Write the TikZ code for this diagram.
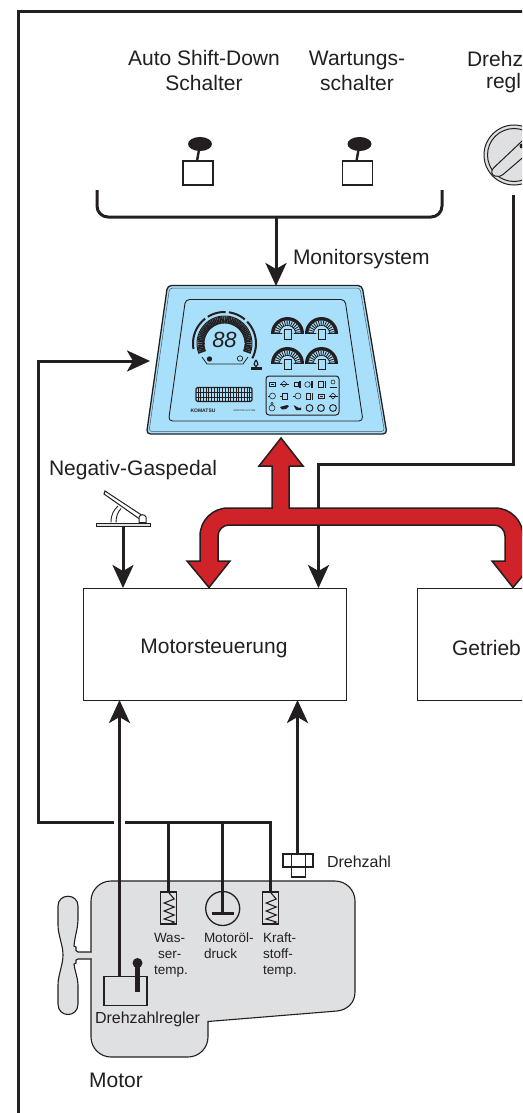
\documentclass[tikz,border=0pt]{standalone}
\usepackage{fontspec}
\setmainfont{Liberation Sans}
\usetikzlibrary{arrows.meta,calc}
\definecolor{ink}{HTML}{231F20}
\definecolor{panelblue}{HTML}{A8DFFA}
\definecolor{redarrow}{HTML}{CF2229}
\definecolor{motorgrey}{HTML}{DFE0E2}
\tikzset{
  x=1pt,y=-1pt,
  every node/.style={text=ink,inner sep=0pt,outer sep=0pt},
  lab/.style={font=\fontsize{21pt}{25pt}\selectfont,align=center},
  smalllab/.style={font=\fontsize{13.5pt}{16pt}\selectfont,align=left},
  conn/.style={draw=ink,line width=3pt},
  arrowconn/.style={conn,-{Stealth[length=23pt,width=21pt,inset=6pt]}},
  thinbox/.style={draw=ink,line width=1.1pt,fill=white},
  sensorbox/.style={draw=ink,line width=1.3pt,fill=none,minimum width=16pt,minimum height=32pt},
  ctrl/.style={draw=ink,line width=1pt,fill=white,minimum height=112pt},
  icon/.style={draw=ink,line width=.55pt},
}
\begin{document}
\begin{tikzpicture}
\path[use as bounding box] (0,0) rectangle (522,1113);
\clip (0,0) rectangle (522,1113);
\fill[white] (0,0) rectangle (522,1113);
% frame
\draw[ink,line width=2.8pt] (18.5,1120) -- (18.5,11.5) -- (530,11.5);

% titles
\node[lab] (t1) at (204,70.5) {Auto Shift-Down\\Schalter};
\node[lab] (t2) at (357,70.5) {Wartungs-\\schalter};
\node[lab,anchor=west] (t3a) at (467,58.5) {Drehz};
\node[lab,anchor=west] (t3b) at (486,83.5) {regl};
\node[lab,anchor=west] (t4) at (293,259.5) {Monitorsystem};
\node[lab,anchor=west] (t5) at (49,470) {Negativ-Gaspedal};

% switches
\foreach \n/\cx in {a/198,b/357.5}{
  \node[thinbox,minimum width=30pt,minimum height=24pt] (sw\n) at (\cx,173) {};
  \fill[ink] (\cx+2,144) ellipse [x radius=12,y radius=7];
  \draw[ink,line width=2.4pt] (\cx-1,161) -- (\cx+1.5,147);
}
% dial
\node[circle,draw=ink,line width=1pt,fill=motorgrey,minimum size=60pt] (dial) at (514,155) {};
\draw[ink,line width=1pt] (514,155) circle [radius=26.5];
\draw[ink,line width=1pt,fill=motorgrey] (530,133.5) -- (493.5,168) .. controls (490,172) and (492,175) .. (495,176) .. controls (498,177) and (500,176.5) .. (503,174.5) -- (534,148);
\fill[ink] (522,146) circle [radius=2.5];

% bracket
\draw[conn,rounded corners=11pt] (97,190) -- (97,217) -- (442,217) -- (442,190);
\coordinate (brk) at (276,217);

% right signal line (behind red arrow)
\coordinate (dialout) at (513.5,195);
\coordinate (jog) at (513.5,464);

% ECU boxes
\node[ctrl,minimum width=263pt] (ecu) at (214.5,644) {};
\node[ctrl,minimum width=160pt] (tcu) at (497,644) {};
\node[lab] (t6) at (214,648) {Motorsteuerung};
\node[lab,anchor=west] (t7) at (452,648) {Getrieb};

% monitor panel
\node[minimum width=240pt,minimum height=148pt] (panel) at (267,360) {};
\draw[ink,line width=1.3pt,fill=panelblue,rounded corners=4pt] (167.5,285.5) -- (362,285.5) -- (387,434) -- (146.5,434) -- cycle;
\draw[ink!70!panelblue,line width=.5pt,rounded corners=3pt] (169.5,288) -- (360,288) -- (384.5,431.5) -- (149,431.5) -- cycle;
\draw[ink,line width=.9pt,rounded corners=4pt] (185.5,299.5) -- (345,299.5) -- (363,421) -- (168.5,421) -- cycle;
% main gauge
\def\gx{224.5}\def\gy{343.5}
\foreach \a in {-20,-16,...,200}{
  \draw[ink,line width=1.6pt] ({\gx+20*cos(\a)},{\gy-20*sin(\a)}) -- ({\gx+27*cos(\a)},{\gy-27*sin(\a)});
}
\draw[ink,line width=1pt] plot[smooth,samples=30,domain=-22:202] ({\gx+27.5*cos(\x)},{\gy-27.5*sin(\x)});
\foreach \s/\e in {190/128,122/88,82/50,44/-28}{
  \draw[ink,line width=2pt] plot[smooth,samples=14,domain=\s:\e] ({\gx+31.5*cos(\x)},{\gy-31.5*sin(\x)});
}
\draw[ink,line width=.8pt] (202,357) -- (207,364) -- (243,364) -- (248,357);
\node[font=\fontsize{22pt}{22pt}\selectfont\itshape] (speed) at (224.5,340) {88};
\fill[ink] (209.5,359) circle [radius=2.7];
\draw[ink,line width=.7pt] (240,358.5) circle [radius=2.7];
% oil icon
\draw[ink,line width=1.2pt] (256,360) .. controls (253.5,363.5) and (253.5,366) .. (256,366.5) .. controls (258.5,366) and (258.5,363.5) .. (256,360);
\fill[ink] (250.5,366.8) rectangle (261.5,369.5);
% small gauges
\foreach \sx/\sy in {287.5/333.5,321.5/333.5,287.5/363.5,321.5/363.5}{
  \fill[ink] ({\sx-16.5},\sy) -- plot[smooth,samples=15,domain=180:0] ({\sx+16.5*cos(\x)},{\sy-16.5*sin(\x)}) -- ({\sx+16.5},\sy) -- cycle;
  \fill[panelblue] (\sx-13,\sy) -- plot[samples=15,domain=180:0] ({\sx+13*cos(\x)},{\sy-13*sin(\x)}) -- cycle;
  \foreach \a in {8,20,...,176}{
    \draw[ink,line width=.85pt] ({\sx+8*cos(\a)},{\sy-8*sin(\a)}) -- ({\sx+13*cos(\a)},{\sy-13*sin(\a)});
  }
  \draw[ink,line width=.7pt] plot[samples=15,domain=180:0] ({\sx+8*cos(\x)},{\sy-8*sin(\x)});
  \draw[ink,line width=1.1pt] (\sx-16.5,\sy) -- (\sx-6,\sy);
  \draw[ink,line width=1.1pt] (\sx+6,\sy) -- (\sx+16.5,\sy);
  \draw[ink,line width=.6pt,fill=panelblue] (\sx-3.5,\sy-4) rectangle (\sx+3.5,\sy+6);
}
% bar display
\draw[ink,line width=1.1pt,rounded corners=1.5pt,fill=panelblue] (196,387.5) rectangle (252,401.5);
\foreach \i in {0,...,19}{\draw[ink,line width=1pt] ({198+\i*2.73},388) -- ({198+\i*2.73},401);}
\draw[ink,line width=.8pt] (196,392) -- (252,392);
\draw[ink,line width=.8pt] (196,397) -- (252,397);
\node[font=\bfseries\fontsize{5pt}{6pt}\selectfont] (brand) at (203,411) {KOMATSU};
\node[font=\fontsize{2.4pt}{3pt}\selectfont] (model) at (244.5,411) {MONITOR SYSTEM};
% indicator block
\draw[ink,line width=1pt,rounded corners=3pt] (266,376) rectangle (339,415);
% row 1
\draw[icon] (269,382) rectangle (275,386.5); \draw[icon] (270.5,384.2) -- (273.5,384.2);
\draw[icon] (284,381) -- (287,384) -- (284,387) -- (281,384) -- cycle; \draw[icon] (279.5,384) -- (288.5,384);
\draw[icon] (294,382) rectangle (298,386.5); \fill[ink] (298.5,380.5) rectangle (300.5,387.5);
\draw[icon] (307.5,384.5) circle [radius=2.8]; \fill[ink] (311,380.5) rectangle (312.5,387.5);
\draw[icon] (318,381.5) rectangle (323,387.5); \draw[icon] (325,380.5) -- (325,387.5);
\draw[icon] (333,382) circle [radius=2]; \draw[icon] (329.5,387) -- (336.5,387);
% row 2
\draw[icon] (272.5,396) circle [radius=3]; \draw[icon] (267.5,396) -- (269.5,396);
\draw[icon] (282,393.5) rectangle (287,399); \draw[icon] (280,396) -- (282,396);
\draw[icon] (298,396) circle [radius=3]; \draw[icon] (292.5,396) -- (295,396);
\draw[icon] (306.5,393) rectangle (310.5,399.5); \draw[icon] (312.5,393) -- (312.5,399.5);
\draw[icon] (318,394) rectangle (324,398.5); \draw[icon] (319.5,396.2) -- (322.5,396.2);
\draw[icon] (333,393) -- (336,396) -- (333,399) -- (330,396) -- cycle; \draw[icon] (328.5,396) -- (337.5,396);
% row 3
\draw[icon] (272,408) circle [radius=3]; \draw[icon] (272,403.5) circle [radius=1.2];
\fill[ink] (280,407) -- (287,405) -- (289,406) -- (286,409) -- (282,409.5) -- cycle;
\fill[ink] (293.5,405) -- (299,408) -- (301,407.5) -- (301,410) -- (296,410) -- cycle;
\foreach \ix in {309.5,321,333}{
  \draw[ink,line width=.95pt] (\ix,408) circle [radius=3.4];
}

% connectors in black, under red
\draw[conn,line join=miter] (dialout) -- (jog) -- (jog -| 318.5,0) coordinate (jogl) -- ++(0,30);
\draw[arrowconn] (jogl) -- (jogl |- ecu.north);
\draw[arrowconn] (brk) -- (brk |- panel.north);

% red arrow
\draw[ink,line width=1.5pt,fill=redarrow,line join=miter]
  (281,438) -- (303,466) -- (289,466) -- (289,508)
  [rounded corners=28pt] -- (523,508) -- (523,540) [sharp corners] -- (523,561) -- (535,561) -- (513,587.5) -- (492,561) -- (505,561)
  [rounded corners=11pt] -- (505,525) -- (218,525) [sharp corners] -- (218,561) -- (230,561) -- (209,587.5) -- (187,561) -- (200,561)
  [rounded corners=28pt] -- (200,508) [sharp corners] -- (272,508) -- (272,466) -- (259,466) -- cycle;

% pedal
\node[draw=ink,line width=.8pt,fill=motorgrey,minimum width=54pt,minimum height=3.5pt] (pedal) at (123,525) {};
\draw[ink,line width=.9pt] (111,522.5) .. controls (111,514) and (114,510) .. (118,506);
\draw[ink,line width=.9pt] (116,522.5) .. controls (116,516) and (118,512) .. (121,508.5);
\draw[ink,line width=1pt,fill=white] (105,491) -- (143,516) -- (141,520) -- (104,494) -- cycle;
\draw[ink,line width=1pt,fill=white] (139,522.5) -- (139,517) .. controls (140,514) and (145,514) .. (146,517) -- (146,522.5) -- cycle;
\draw[arrowconn] (pedal.south) -- (ecu.north -| pedal.south);

% engine
\draw[ink,line width=1.1pt,fill=motorgrey]
  (111,881) -- (335,881) .. controls (346,881) and (355,890) .. (355,901) -- (355,992)
  .. controls (355,1003) and (347,1010) .. (337,1011) -- (208,1021.5) -- (208,1037)
  .. controls (208,1048) and (199,1057) .. (188,1057) -- (111,1057)
  .. controls (100,1057) and (91,1048) .. (91,1037) -- (91,901)
  .. controls (91,890) and (100,881) .. (111,881) -- cycle;
\draw[ink,line width=1.1pt,fill=motorgrey] (91,952) -- (78,952) -- (76,950.5) -- (76,947) -- (74,946)
  .. controls (75,935) and (78,928) .. (78,920) -- (78,906) .. controls (78,893) and (58,893) .. (58,906)
  -- (58,925) .. controls (58,935) and (63,945) .. (63,955) .. controls (63,965) and (58,975) .. (58,985) -- (58,1004)
  .. controls (58,1018) and (78,1018) .. (78,1004) -- (78,985) .. controls (78,978) and (75,972) .. (74,964) -- (76,963) -- (76,960) -- (78,959) -- (91,959);
\draw[motorgrey,line width=1.6pt] (91,953.2) -- (91,957.8);

% engine sensors
\node[sensorbox] (wt) at (168.7,908) {};
\node[sensorbox] (ft) at (270.7,908) {};
\node[circle,draw=ink,line width=1.3pt,minimum size=34pt] (oil) at (222.7,908.5) {};
\foreach \c in {wt,ft}{
  \draw[ink,line width=1.1pt] ($(\c.north)+(0,.5)$) -- ++(5.5,6.5) -- ++(-10,4) -- ++(10,4) -- ++(-10,4) -- ++(10,4) -- ++(-10,4) -- ++(10,3) -- ++(-5,2.5);
}
\draw[ink,line width=2.4pt] (212,913.5) -- (233.5,913.5);

\node[draw=ink,line width=1.1pt,minimum width=43pt,minimum height=29.5pt] (gov) at (125.5,991) {};
\fill[ink] (137.5,963) circle [radius=5];
\draw[ink,line width=5pt] (137.5,963) -- (137.5,992);

% signal lines
\coordinate (bus) at (270,822);
\draw[conn,line join=miter] (wt.north -| 168.5,0) -- (168.5,822);
\draw[conn] (oil.south |- 0,913) -- (222.7,822);
\draw[conn,line join=miter] (ft.north -| 270,0) -- (bus) -- (125,822);
\draw[arrowconn,line join=miter] (114,822) -- (38,822) -- (38,361) -- (150,361);
\draw[arrowconn] (gov.north -| 119.5,0) -- (119.5,700);

% speed sensor
\node[draw=ink,line width=1.1pt,minimum width=30pt,minimum height=13pt] (rpm) at (298,860.5) {};
\draw[ink,line width=1.1pt] (291.5,854) -- (291.5,877) -- (305.5,877) -- (305.5,854);
\draw[ink,line width=1.1pt] (291.5,867) -- (305.5,867);
\draw[arrowconn] (rpm.north -| 297.5,0) -- (297.5,700);

% engine labels
\node[smalllab,anchor=north west] (l1) at (154,933) {Was-\\[0pt]\hspace*{4pt}ser-\\temp.};
\node[smalllab,anchor=north west] (l2) at (204,933) {Motoröl-\\druck};
\node[smalllab,anchor=north west] (l3) at (263,933) {Kraft-\\stoff-\\temp.};
\node[font=\fontsize{16pt}{16pt}\selectfont] (l4) at (147.5,1019.5) {Drehzahlregler};
\node[font=\fontsize{21pt}{22pt}\selectfont] (l5) at (116,1080) {Motor};
\node[font=\fontsize{16pt}{16pt}\selectfont,anchor=west] (l6) at (327,862) {Drehzahl};
\end{tikzpicture}
\end{document}
